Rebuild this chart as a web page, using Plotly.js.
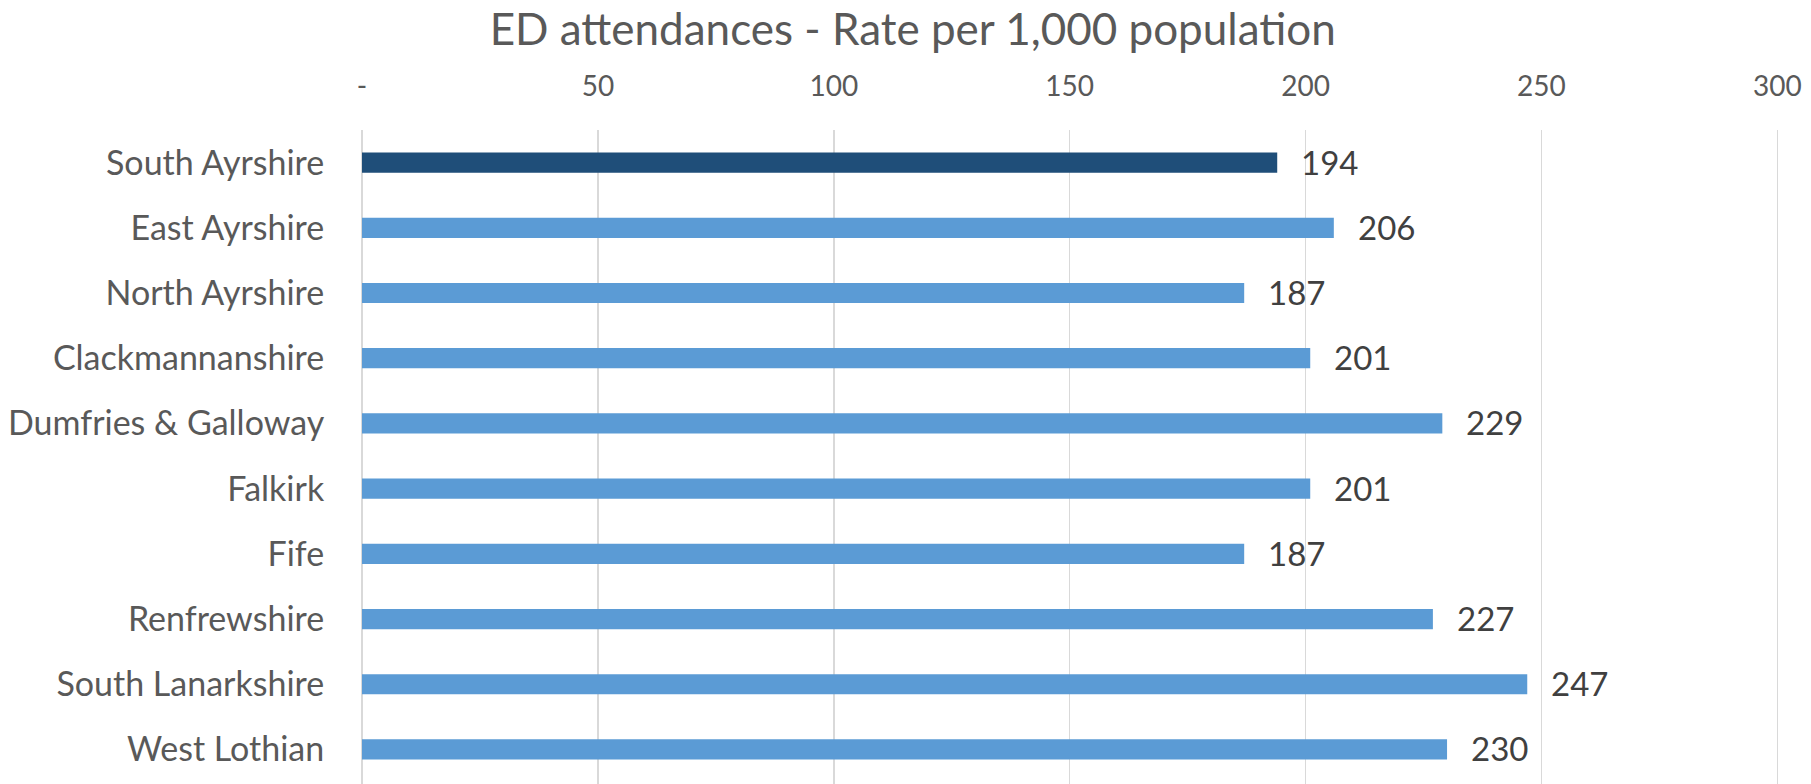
<!DOCTYPE html>
<html>
<head>
<meta charset="utf-8">
<script src="https://cdn.plot.ly/plotly-3.0.1.min.js"></script>
<style>
  html, body { margin: 0; padding: 0; background: #ffffff; overflow: hidden; }
  #chart { width: 1811px; height: 784px; }
</style>
</head>
<body>
<div id="chart"></div>
<script>
// ---- Data ----
const categories = [
  "South Ayrshire",
  "East Ayrshire",
  "North Ayrshire",
  "Clackmannanshire",
  "Dumfries & Galloway",
  "Falkirk",
  "Fife",
  "Renfrewshire",
  "South Lanarkshire",
  "West Lothian"
];
const rates = [194, 206, 187, 201, 229, 201, 187, 227, 247, 230];
const highlighted = "South Ayrshire";
const xTickValues = [0, 50, 100, 150, 200, 250, 300];
const xTickLabels = ["-", "50", "100", "150", "200", "250", "300"];
const chartTitle = "ED attendances - Rate per 1,000 population";

// ---- Styles ----
const FONT = "Lato, 'Open Sans', sans-serif";
const DARK = "#1F4E79";
const LIGHT = "#5B9BD5";
const TEXT_GREY = "#595959";
const LABEL_GREY = "#404040";

const barColors = categories.map(c => c === highlighted ? DARK : LIGHT);

const trace = {
  type: "bar",
  orientation: "h",
  x: rates,
  y: categories,
  width: 0.31,
  marker: { color: barColors, line: { width: 0 } },
  hoverinfo: "x+y"
};

const annotations = categories.map((c, i) => ({
  x: rates[i],
  y: c,
  xref: "x",
  yref: "y",
  text: String(rates[i]),
  showarrow: false,
  xanchor: "left",
  yanchor: "middle",
  xshift: 22,
  yshift: 1,
  font: { family: FONT, size: 33, color: LABEL_GREY }
}));

const layout = {
  width: 1811,
  height: 784,
  paper_bgcolor: "#ffffff",
  plot_bgcolor: "#ffffff",
  margin: { l: 362, r: 29, t: 130, b: 0, pad: 0 },
  title: {
    text: chartTitle,
    x: 0.504,
    xanchor: "center",
    xref: "container",
    y: 0.962,
    yanchor: "middle",
    yref: "container",
    font: { family: FONT, size: 44, color: TEXT_GREY }
  },
  xaxis: {
    side: "top",
    range: [0, 301],
    tickmode: "array",
    tickvals: xTickValues,
    ticktext: xTickLabels,
    showgrid: true,
    gridcolor: "#D9D9D9",
    gridwidth: 1.5,
    zeroline: true,
    zerolinecolor: "#D9D9D9",
    zerolinewidth: 1.5,
    showline: false,
    ticks: "outside",
    ticklen: 22,
    tickcolor: "rgba(0,0,0,0)",
    tickfont: { family: FONT, size: 28, color: TEXT_GREY },
    fixedrange: true
  },
  yaxis: {
    type: "category",
    range: [9.53, -0.5],
    showgrid: false,
    zeroline: false,
    showline: false,
    ticks: "outside",
    ticklen: 30,
    tickcolor: "rgba(0,0,0,0)",
    tickfont: { family: FONT, size: 34, color: TEXT_GREY },
    fixedrange: true
  },
  annotations: annotations,
  showlegend: false,
  bargap: 0.69
};

Plotly.newPlot("chart", [trace], layout, { displayModeBar: false, staticPlot: true });
</script>
</body>
</html>
